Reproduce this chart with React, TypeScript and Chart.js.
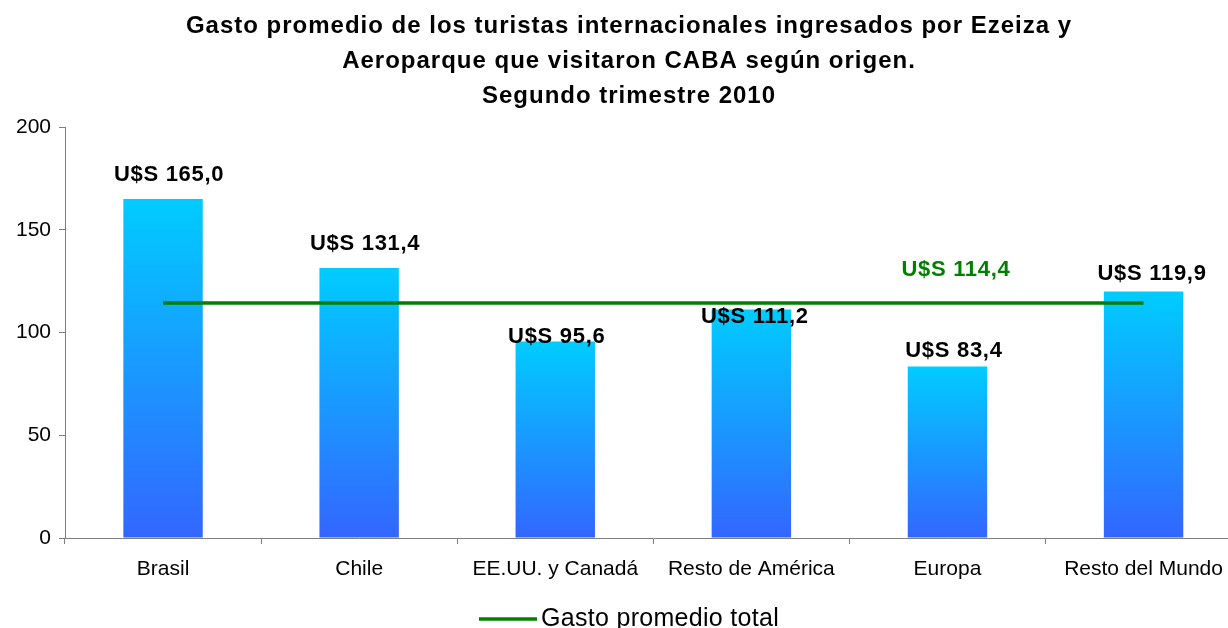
import React, { useEffect, useRef } from 'react';
import { Chart, registerables } from 'chart.js';

Chart.register(...registerables);

// ---------- data ----------
const categories = ['Brasil', 'Chile', 'EE.UU. y Canadá', 'Resto de América', 'Europa', 'Resto del Mundo'];
const gastoPorOrigen = [165.0, 131.4, 95.6, 111.2, 83.4, 119.9];
const gastoPromedioTotal = 114.4;
const titleLines = [
  'Gasto promedio de los turistas internacionales ingresados por Ezeiza y',
  'Aeroparque que visitaron CABA según origen.',
  'Segundo trimestre 2010',
];
const yTickValues = [0, 50, 100, 150, 200];
const legendLabel = 'Gasto promedio total';

// ---------- styling / label layout ----------
const FONT = "'Liberation Sans', Arial, Helvetica, sans-serif";
const GREEN = '#008000';
const AXIS = '#7f7f7f';
// label nudges (pixels) relative to the bar top, as placed in the original
const barLabelNudge = [
  { dx: 6, rise: 18 },
  { dx: 6, rise: 18 },
  { dx: 1.5, rise: -1.5 },
  { dx: 3.5, rise: -13.5 },
  { dx: 6.5, rise: 9.6 },
  { dx: 8.5, rise: 11.6 },
];
const avgLabelIndex = 4;
const avgLabelNudge = { dx: 8.5, rise: 27 };

const fmt = (v: number) => 'U$S ' + v.toFixed(1).replace('.', ',');

const decorPlugin = {
  id: 'decor',
  afterDraw(chart: any) {
    const ctx = chart.ctx as CanvasRenderingContext2D & { letterSpacing: string };
    ctx.save();
    // title
    ctx.letterSpacing = '1px';
    ctx.fillStyle = '#000';
    ctx.textAlign = 'center';
    ctx.textBaseline = 'alphabetic';
    ctx.font = `bold 24px ${FONT}`;
    const titleBase = [33, 68, 103];
    titleLines.forEach((t, i) => ctx.fillText(t, 629, titleBase[i]));

    // bar labels
    ctx.letterSpacing = '0.7px';
    ctx.font = `bold 22px ${FONT}`;
    const barMeta = chart.getDatasetMeta(0);
    barMeta.data.forEach((bar: any, i: number) => {
      const n = barLabelNudge[i];
      ctx.fillText(fmt(gastoPorOrigen[i]), bar.x + n.dx, bar.y - n.rise);
    });

    // average label
    const lineMeta = chart.getDatasetMeta(1);
    const pt = lineMeta.data[avgLabelIndex];
    ctx.fillStyle = GREEN;
    ctx.fillText(fmt(gastoPromedioTotal), pt.x + avgLabelNudge.dx, pt.y - avgLabelNudge.rise);

    // legend
    ctx.strokeStyle = GREEN;
    ctx.lineWidth = 3.5;
    ctx.beginPath();
    ctx.moveTo(479, 619);
    ctx.lineTo(537, 619);
    ctx.stroke();
    ctx.letterSpacing = '0.3px';
    ctx.fillStyle = '#000';
    ctx.textAlign = 'left';
    ctx.font = `25px ${FONT}`;
    ctx.fillText(legendLabel, 541, 626);
    ctx.restore();
  },
};

export default function App() {
  const ref = useRef<HTMLCanvasElement | null>(null);

  useEffect(() => {
    if (!ref.current) return;
    Chart.defaults.font.family = FONT;
    Chart.defaults.color = '#000';
    const chart = new Chart(ref.current, {
      type: 'bar',
      data: {
        labels: categories,
        datasets: [
          {
            type: 'bar',
            label: 'Gasto por origen',
            data: gastoPorOrigen,
            order: 2,
            borderWidth: 0,
            barPercentage: 0.405,
            categoryPercentage: 1,
            backgroundColor: (c: any) => {
              const chart = c.chart;
              const y = chart.scales && chart.scales.y;
              if (!y || c.type !== 'data' || !chart.chartArea) return '#1a9bff';
              const top = y.getPixelForValue(c.raw);
              const base = y.getPixelForValue(0);
              const g = chart.ctx.createLinearGradient(0, top, 0, base);
              g.addColorStop(0, '#00CCFF');
              g.addColorStop(1, '#3366FF');
              return g;
            },
          },
          {
            type: 'line',
            label: legendLabel,
            data: categories.map(() => gastoPromedioTotal),
            order: 1,
            borderColor: GREEN,
            borderWidth: 3.5,
            pointRadius: 0,
            pointHoverRadius: 0,
            fill: false,
          },
        ],
      } as any,
      options: {
        animation: false,
        responsive: true,
        maintainAspectRatio: false,
        events: [],
        layout: { padding: { left: 0, right: 8.4, top: 127, bottom: 0 } },
        plugins: {
          legend: { display: false },
          title: { display: false },
          tooltip: { enabled: false },
        },
        scales: {
          x: {
            afterFit: (s: any) => { s.height = 90; },
            grid: {
              offset: true,
              drawOnChartArea: false,
              drawTicks: true,
              tickLength: 6,
              color: AXIS,
            },
            border: { display: true, color: AXIS, width: 1 },
            ticks: { font: { size: 21 }, color: '#000', padding: 13, maxRotation: 0, autoSkip: false },
          },
          y: {
            min: 0,
            max: 200,
            afterFit: (s: any) => { s.width = 65; },
            afterBuildTicks: (s: any) => { s.ticks = yTickValues.map((v) => ({ value: v })); },
            grid: {
              drawOnChartArea: false,
              drawTicks: true,
              tickLength: 6,
              color: AXIS,
            },
            border: { display: true, color: AXIS, width: 1 },
            ticks: { font: { size: 21 }, color: '#000', padding: 8 },
          },
        },
      } as any,
      plugins: [decorPlugin],
    });
    return () => chart.destroy();
  }, []);

  return (
    <div style={{ position: 'fixed', left: 0, top: 0, width: 1228, height: 628, overflow: 'hidden', background: '#fff' }}>
      <div style={{ position: 'absolute', left: 0, top: 0, width: 1250, height: 628 }}>
        <canvas ref={ref} />
      </div>
    </div>
  );
}
